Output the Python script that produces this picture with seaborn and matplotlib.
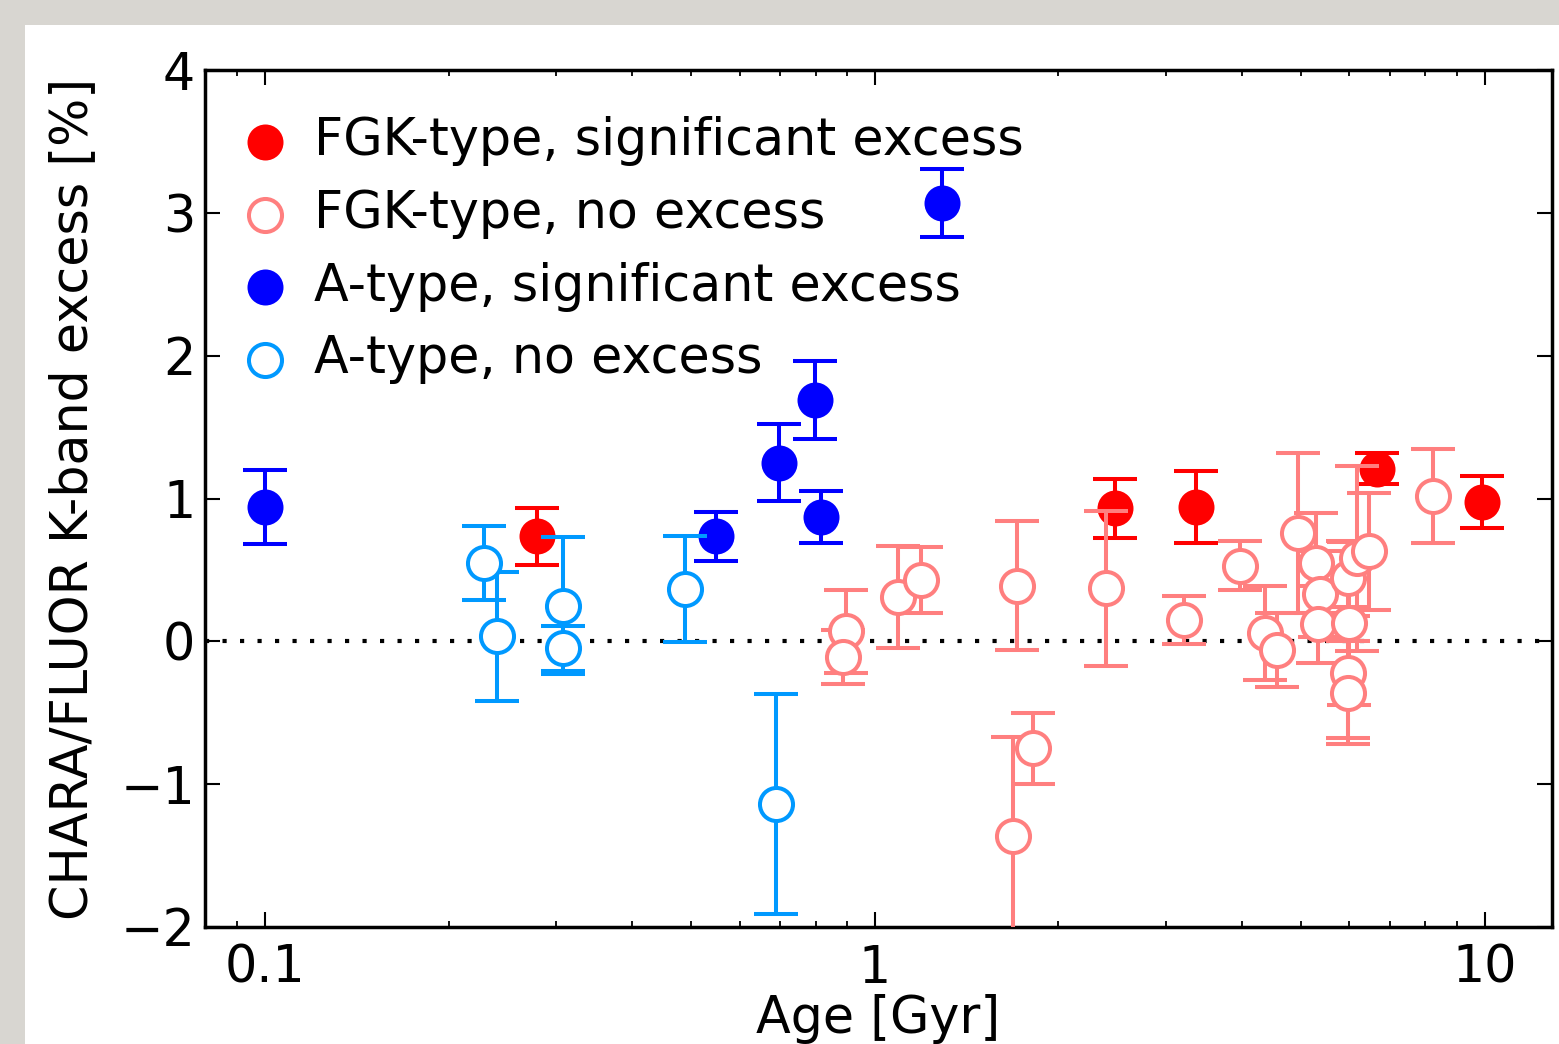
import matplotlib
matplotlib.use("Agg")
import matplotlib.pyplot as plt
from matplotlib.patches import Rectangle
from matplotlib.ticker import FixedLocator, FixedFormatter, LogLocator, NullFormatter
import seaborn as sns
import pandas as pd
import numpy as np

# ---------------- data ----------------
fgk_sig_age = [0.279, 2.48, 3.36, 6.66, 9.9]
fgk_sig_exc = [0.735, 0.93, 0.94, 1.21, 0.975]
fgk_sig_err = [0.20, 0.21, 0.25, 0.11, 0.18]

fgk_no_age = [0.896, 0.886, 1.09, 1.19, 1.71, 1.816, 1.684, 2.39, 3.21, 3.97, 4.36, 4.57,
              4.94, 5.30, 5.37, 5.33, 5.97, 6.18, 6.46, 6.0, 5.97, 5.97, 8.23]
fgk_no_exc = [0.07, -0.11, 0.31, 0.43, 0.39, -0.75, -1.36, 0.37, 0.15, 0.53, 0.056, -0.063,
              0.76, 0.546, 0.33, 0.12, 0.44, 0.58, 0.63, 0.126, -0.22, -0.36, 1.02]
fgk_no_err = [0.29, 0.19, 0.36, 0.23, 0.45, 0.25, 0.69, 0.54, 0.17, 0.17, 0.33, 0.26,
              0.56, 0.35, 0.30, 0.27, 0.26, 0.65, 0.41, 0.57, 0.46, 0.36, 0.33]

a_sig_age = [0.100, 0.548, 0.696, 0.797, 0.815, 1.29]
a_sig_exc = [0.94, 0.735, 1.25, 1.69, 0.87, 3.07]
a_sig_err = [0.26, 0.17, 0.27, 0.27, 0.18, 0.24]

a_no_age = [0.229, 0.240, 0.308, 0.308, 0.488, 0.688]
a_no_exc = [0.546, 0.035, 0.25, -0.05, 0.364, -1.14]
a_no_err = [0.26, 0.45, 0.48, 0.16, 0.37, 0.77]

labels = ["FGK-type, significant excess", "FGK-type, no excess",
          "A-type, significant excess", "A-type, no excess"]
x_tick_values = [0.1, 1, 10]
x_tick_labels = ["0.1", "1", "10"]
y_tick_values = [-2, -1, 0, 1, 2, 3, 4]
y_tick_labels = ["\u22122", "\u22121", "0", "1", "2", "3", "4"]

# ---------------- style ----------------
sns.set_style("ticks")
plt.rcParams["font.family"] = ["DejaVu Sans"]
plt.rcParams["text.color"] = "black"
plt.rcParams["axes.labelcolor"] = "black"
plt.rcParams["xtick.color"] = "black"
plt.rcParams["ytick.color"] = "black"
FS = 36.5

fig = plt.figure(figsize=(15.59, 10.44), dpi=100, facecolor="#d8d6d1")
bg = Rectangle((25 / 1559, 0), 1, (1044 - 25) / 1044, transform=fig.transFigure,
               facecolor="white", edgecolor="none", zorder=-10)
fig.add_artist(bg)
ax = fig.add_axes([205 / 1559, 1 - 927 / 1044, (1552 - 205) / 1559, (927 - 70) / 1044])
ax.set_zorder(1)
ax.set_facecolor("white")

groups = [
    (fgk_sig_age, fgk_sig_exc, fgk_sig_err, "#ff0000", True),
    (fgk_no_age, fgk_no_exc, fgk_no_err, "#ff7f7f", False),
    (a_sig_age, a_sig_exc, a_sig_err, "#0000ff", True),
    (a_no_age, a_no_exc, a_no_err, "#0099ff", False),
]

z = 3
for (xs, ys, es, col, filled), lab in zip(groups, labels):
    df = pd.DataFrame({"age": xs, "exc": ys, "err": es})
    ax.errorbar(df["age"], df["exc"], yerr=df["err"], fmt="none", ecolor=col,
                elinewidth=2.9, capsize=15.5, capthick=2.9, zorder=z)
    if filled:
        sns.scatterplot(data=df, x="age", y="exc", ax=ax, color=col, s=672,
                        marker="o", linewidth=0, label=lab, zorder=z + 1)
    else:
        sns.scatterplot(data=df, x="age", y="exc", ax=ax, s=566, marker="o",
                        facecolor="white", edgecolor=col, linewidth=2.9,
                        label=lab, zorder=z + 1)
    z += 2

ax.axhline(0, color="black", lw=3.0, linestyle=(0, (1, 3.2)), zorder=2)

ax.set_xscale("log")
ax.set_xlim(0.0797, 12.9)
ax.set_ylim(-2, 4)
ax.xaxis.set_major_locator(FixedLocator(x_tick_values))
ax.xaxis.set_major_formatter(FixedFormatter(x_tick_labels))
ax.xaxis.set_minor_locator(LogLocator(base=10, subs=np.arange(2, 10)))
ax.xaxis.set_minor_formatter(NullFormatter())
ax.yaxis.set_major_locator(FixedLocator(y_tick_values))
ax.yaxis.set_major_formatter(FixedFormatter(y_tick_labels))

ax.tick_params(axis="both", which="major", direction="in", length=11, width=1.5,
               top=True, right=True, labelsize=FS, color="black", labelcolor="black")
ax.tick_params(axis="x", which="major", pad=12)
ax.tick_params(axis="y", which="major", pad=7)
ax.tick_params(axis="x", which="minor", direction="in", length=4.5, width=1.3,
               top=True, bottom=True, color="black")
for sp in ax.spines.values():
    sp.set_linewidth(2.5)
    sp.set_color("black")
    sp.set_visible(True)

ax.set_xlabel("Age [Gyr]", fontsize=FS, labelpad=0, color="black")
ax.set_ylabel("CHARA/FLUOR K-band excess [%]", fontsize=FS, labelpad=16, color="black")

leg = ax.legend(loc="upper left", bbox_to_anchor=(35 / 1347, 1 - 46 / 857), frameon=False,
                fontsize=FS, handlelength=1.0, handletextpad=0.45, borderaxespad=0,
                borderpad=0, labelspacing=0.45, markerscale=1.0)
for t in leg.get_texts():
    t.set_color("black")

fig.savefig("out.png", dpi=100, facecolor=fig.get_facecolor())
